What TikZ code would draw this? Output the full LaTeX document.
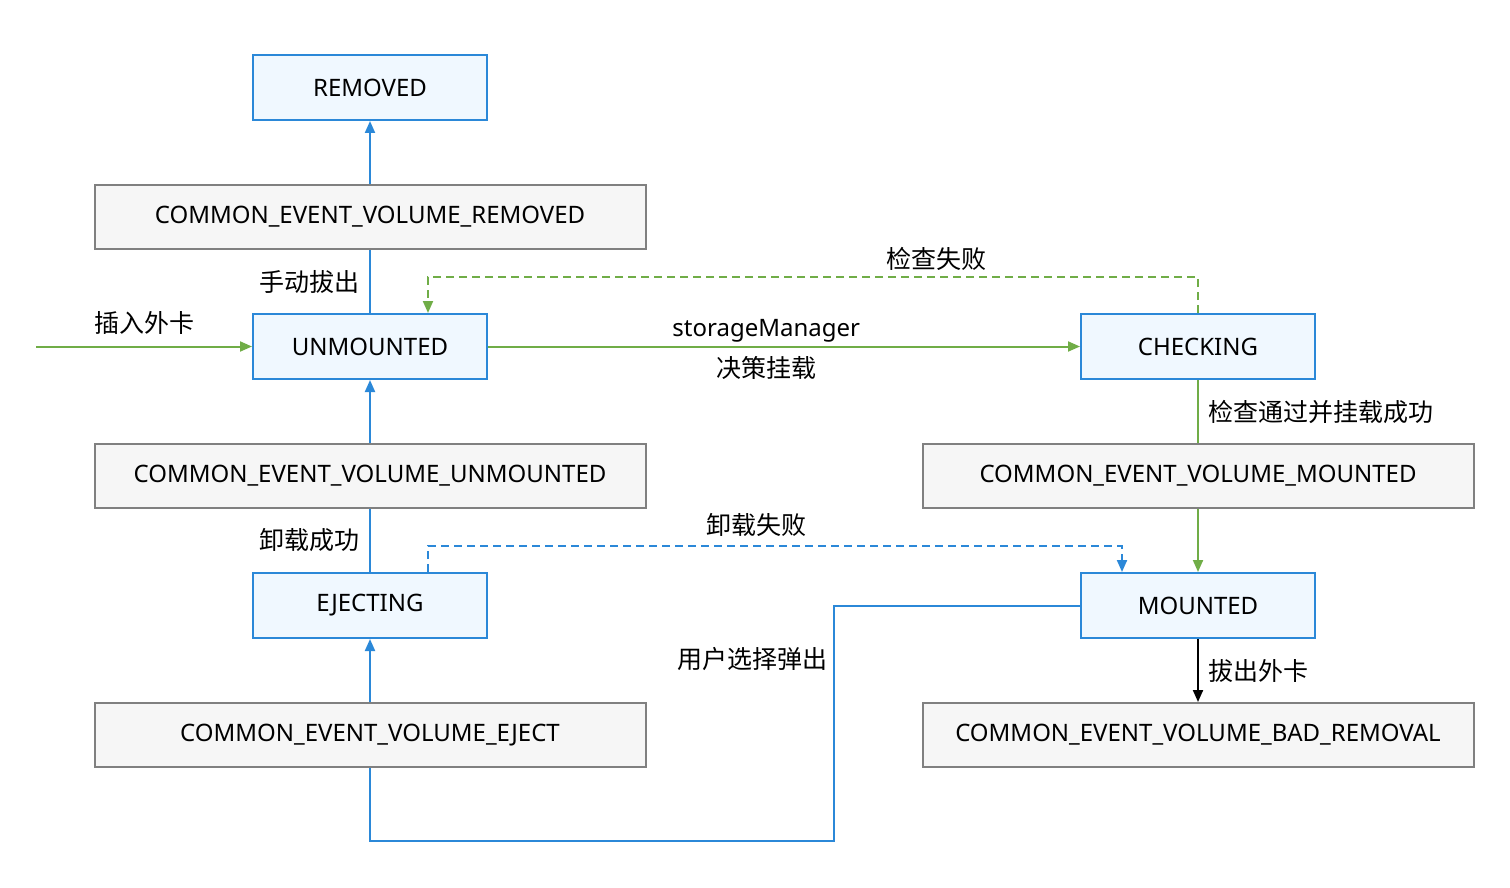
\documentclass[tikz,border=0pt]{standalone}
\usepackage{fontspec}
\setmainfont{Noto Sans}
\newfontfamily\cjk{Noto Sans CJK SC}
\usepackage{tikz}
\usetikzlibrary{positioning}
\usetikzlibrary{arrows.meta}

\definecolor{stblue}{HTML}{2B88D8}
\definecolor{stfill}{HTML}{F0F8FF}
\definecolor{evgray}{HTML}{808080}
\definecolor{evfill}{HTML}{F6F6F6}
\definecolor{okgreen}{HTML}{70AD47}

\tikzset{
  stbox/.style={draw=stblue, fill=stfill, line width=2pt, minimum width=234pt,
    minimum height=65pt, font=\fontsize{24}{28}\selectfont},
  evbox/.style={draw=evgray, fill=evfill, line width=2pt, minimum width=551pt,
    minimum height=64pt, font=\fontsize{24}{28}\selectfont},
  lbl/.style={font=\fontsize{25}{28}\selectfont\cjk},
  lblen/.style={font=\fontsize{24}{28}\selectfont},
  tip/.style={-{Triangle[length=12pt,width=10pt]}},
  bl/.style={draw=stblue, line width=2pt},
  gr/.style={draw=okgreen, line width=2pt},
  dash8/.style={dash pattern=on 8pt off 5pt},
}

\begin{document}
\begin{tikzpicture}[x=1pt, y=-1pt, node distance=63pt]
    \useasboundingbox (0,0) rectangle (1510,888);

    % Define nodes
    \node[stbox]                  (rem)  at (370,87.5) {REMOVED};
    \node[evbox, below=of rem]    (erem) {COMMON\_EVENT\_VOLUME\_REMOVED};
    \node[stbox, below=of erem]   (unm)  {UNMOUNTED};
    \node[evbox, below=of unm]    (eunm) {COMMON\_EVENT\_VOLUME\_UNMOUNTED};
    \node[stbox, below=of eunm]   (ej)   {EJECTING};
    \node[evbox, below=of ej]     (eej)  {COMMON\_EVENT\_VOLUME\_EJECT};
    \node[stbox, right=592pt of unm] (chk)  {CHECKING};
    \node[evbox, below=of chk]    (emnt) {COMMON\_EVENT\_VOLUME\_MOUNTED};
    \node[stbox, below=of emnt]   (mnt)  {MOUNTED};
    \node[evbox, below=of mnt]    (ebad) {COMMON\_EVENT\_VOLUME\_BAD\_REMOVAL};
    \coordinate[left=216pt of unm.west] (ins);

    % Connect the nodes
    \draw[bl, tip] (erem) -- (rem);
    \draw[bl] (unm) -- node[lbl, left=6pt] {手动拔出} (erem);
    \draw[gr, tip] (ins) -- node[lbl, above=8pt] {插入外卡} (unm);
    \draw[gr, tip] (unm) -- node[lblen, pos=0.47, above=0pt] {storageManager}
        node[lbl, pos=0.47, below=6pt] {决策挂载} (chk);
    \draw[gr, tip, dash8] (chk.north) -- ++(0,-36)
        -| node[lbl, pos=0.17, above=2pt] {检查失败} ([xshift=58pt]unm.north);
    \draw[gr] (chk) -- node[lbl, right=6pt] {检查通过并挂载成功} (emnt);
    \draw[gr, tip] (emnt) -- (mnt);
    \draw[bl, tip] (eunm) -- (unm);
    \draw[bl] (ej) -- node[lbl, left=6pt] {卸载成功} (eunm);
    \draw[bl, tip, dash8] ([xshift=58pt]ej.north) -- ++(0,-26)
        -| node[lbl, pos=0.237, above=5pt] {卸载失败} ([xshift=-76pt]mnt.north);
    \draw[bl, tip] (eej) -- (ej);
    \draw[bl] (mnt.west) -| node[lbl, pos=0.613, left=2pt] {用户选择弹出}
        ([shift={(-246,235)}]mnt.west) -| (eej.south);
    \draw[line width=2pt, tip] (mnt) -- node[lbl, right=6pt] {拔出外卡} (ebad);
\end{tikzpicture}
\end{document}
